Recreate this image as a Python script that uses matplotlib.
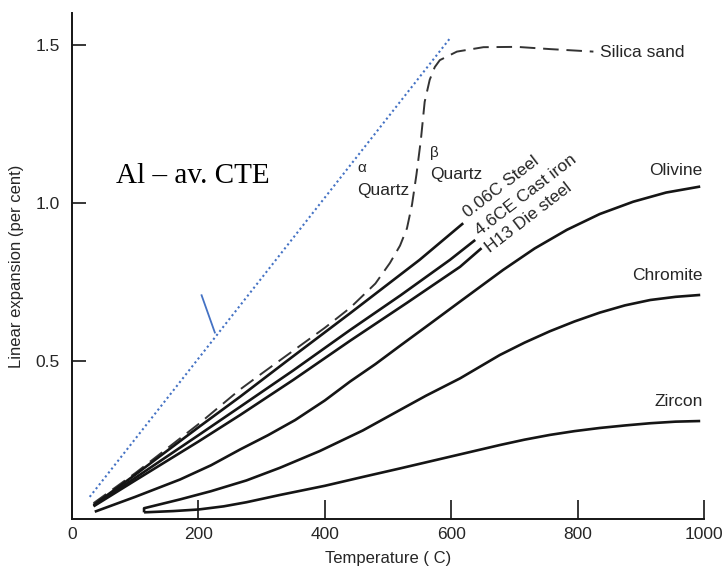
import matplotlib
matplotlib.use('Agg')
import matplotlib.pyplot as plt

plt.rcParams['font.family'] = ['Liberation Sans', 'DejaVu Sans']

# Expansion curves, temperature (C) vs linear expansion (per cent)
silica_T = [34, 100, 200, 266, 300, 400, 440, 480, 503, 519, 530, 538, 545, 552,
            558, 566, 574, 582, 609, 651, 704, 756, 825]
silica_y = [0.05, 0.145, 0.30, 0.41, 0.46, 0.605, 0.668, 0.745, 0.81, 0.865, 0.92,
            0.995, 1.09, 1.2, 1.32, 1.39, 1.43, 1.452, 1.479, 1.493, 1.494, 1.487,
            1.479]

steel_T = [34, 100, 200, 266, 340, 440, 550, 619]
steel_y = [0.044, 0.14, 0.29, 0.387, 0.50, 0.651, 0.82, 0.936]

castiron_T = [34, 100, 200, 266, 350, 440, 520, 598, 638]
castiron_y = [0.042, 0.13, 0.265, 0.355, 0.47, 0.598, 0.708, 0.82, 0.883]

h13_T = [34, 100, 200, 266, 350, 440, 530, 614, 648]
h13_y = [0.040, 0.122, 0.245, 0.329, 0.44, 0.564, 0.684, 0.798, 0.857]

olivine_T = [36, 100, 171, 220, 266, 310, 353, 400, 440, 480, 519, 566, 614, 682,
             732, 783, 835, 888, 940, 994]
olivine_y = [0.023, 0.07, 0.125, 0.17, 0.22, 0.265, 0.313, 0.375, 0.435, 0.49,
             0.548, 0.617, 0.688, 0.788, 0.856, 0.915, 0.965, 1.004, 1.033, 1.052]

chromite_T = [114, 114, 171, 220, 276, 329, 392, 460, 519, 560, 614, 677, 716,
              756, 795, 835, 875, 915, 955, 994]
chromite_y = [0.021, 0.034, 0.062, 0.088, 0.122, 0.162, 0.215, 0.28, 0.345, 0.39,
              0.445, 0.519, 0.558, 0.594, 0.625, 0.653, 0.676, 0.693, 0.703, 0.709]

zircon_T = [114, 160, 200, 240, 276, 329, 400, 460, 519, 598, 677, 716, 756, 795,
            835, 875, 915, 955, 994]
zircon_y = [0.021, 0.025, 0.03, 0.04, 0.053, 0.076, 0.105, 0.133, 0.16, 0.197,
            0.234, 0.251, 0.266, 0.278, 0.288, 0.296, 0.303, 0.308, 0.31]

# average CTE of aluminium, straight line
al_T = [28, 598]
al_y = [0.07, 1.521]
al_mark_T = [205, 226]
al_mark_y = [0.708, 0.59]

fig = plt.figure(figsize=(7.26, 5.69), dpi=100)
ax = fig.add_axes([0.0992, 0.0879, 0.8705, 0.8886])

ink = '#151515'
txt = '#262626'

ax.plot(silica_T, silica_y, color='#333333', lw=1.4, dashes=(8, 4))
for T, y in [(steel_T, steel_y), (castiron_T, castiron_y), (h13_T, h13_y),
             (olivine_T, olivine_y), (chromite_T, chromite_y), (zircon_T, zircon_y)]:
    ax.plot(T, y, color=ink, lw=1.9, solid_capstyle='butt', solid_joinstyle='round')

blue = '#4472C4'
ax.plot(al_T, al_y, color=blue, lw=1.5, linestyle=(0, (1, 1.4)))
ax.plot(al_mark_T, al_mark_y, color=blue, lw=1.3)

ax.set_xlim(0, 1000)
ax.set_ylim(0, 1.6)
ax.set_xticks([0, 200, 400, 600, 800, 1000])
ax.set_yticks([0.5, 1.0, 1.5])
ax.set_yticklabels(['0.5', '1.0', '1.5'])

for s in ['top', 'right']:
    ax.spines[s].set_visible(False)
for s in ['left', 'bottom']:
    ax.spines[s].set_linewidth(1.4)
    ax.spines[s].set_color(ink)

ax.tick_params(axis='x', direction='in', length=14, width=1.2, colors=ink,
               labelcolor=txt, labelsize=12.5, pad=6)
ax.tick_params(axis='y', direction='in', length=10, width=1.2, colors=ink,
               labelcolor=txt, labelsize=12.5, pad=9)

ax.set_xlabel('Temperature ( C)', fontsize=12, color=txt, labelpad=6)
ax.set_ylabel('Linear expansion (per cent)', fontsize=12, color=txt, labelpad=8)

fs = 12.5
ax.text(835, 1.477, 'Silica sand', fontsize=fs, color=txt, va='center', ha='left')
ax.text(998, 1.104, 'Olivine', fontsize=fs, color=txt, va='center', ha='right')
ax.text(998, 0.772, 'Chromite', fontsize=fs, color=txt, va='center', ha='right')
ax.text(998, 0.371, 'Zircon', fontsize=fs, color=txt, va='center', ha='right')
ax.text(452, 1.11, 'α', fontsize=11, color=txt, va='center', ha='left')
ax.text(451, 1.041, 'Quartz', fontsize=fs, color=txt, va='center', ha='left')
ax.text(566, 1.158, 'β', fontsize=11, color=txt, va='center', ha='left')
ax.text(566, 1.089, 'Quartz', fontsize=fs, color=txt, va='center', ha='left')

# labels at the ends of the three metal curves
ax.text(627, 0.953, '0.06C Steel', fontsize=fs, color=txt, rotation=37.5,
        rotation_mode='anchor', ha='left', va='baseline')
ax.text(645, 0.894, '4.6CE Cast iron', fontsize=fs, color=txt, rotation=37.5,
        rotation_mode='anchor', ha='left', va='baseline')
ax.text(661, 0.842, 'H13 Die steel', fontsize=fs, color=txt, rotation=37.5,
        rotation_mode='anchor', ha='left', va='baseline')

ax.text(70, 1.063, 'Al – av. CTE', fontsize=21, color='black',
        family=['Liberation Serif', 'DejaVu Serif'], ha='left', va='baseline')

fig.savefig('out.png', dpi=100)
